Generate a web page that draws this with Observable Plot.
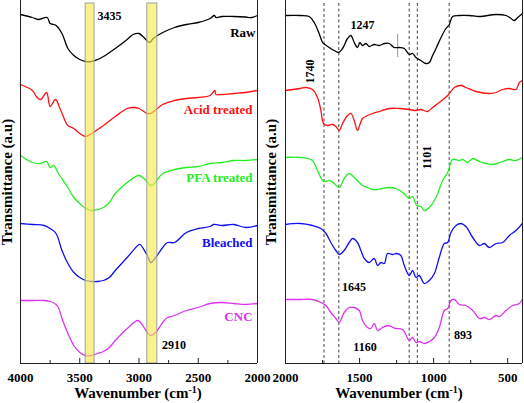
<!DOCTYPE html>
<html>
<head>
<meta charset="utf-8">
<script src="https://cdn.jsdelivr.net/npm/d3@7"></script>
<script src="https://cdn.jsdelivr.net/npm/@observablehq/plot@0.6"></script>
<style>
  body { margin: 0; background: #fff; }
  #chart { position: relative; width: 524px; height: 403px; font-family: "Liberation Serif", "Times New Roman", serif; font-weight: bold; }
  #chart svg { position: absolute; left: 0; top: 0; overflow: visible; }
  .xtitle { position: absolute; top: 386px; font-size: 15px; line-height: 14px; white-space: nowrap; transform: translateX(-50%); color: #000; }
  .xtitle sup { font-size: 10px; vertical-align: 5px; line-height: 0; }
</style>
</head>
<body>
<div id="chart"></div>
<script>
// ---------- data (wavenumber, transmittance a.u.) ----------
const seriesNames = ["Raw", "Acid treated", "PFA treated", "Bleached", "CNC"];
const seriesColors = ["#000000", "#ff1010", "#22ee22", "#1010ee", "#dd33ee"];

const rawLeft = [[4000,349],[3900,346],[3850,344],[3775,346],[3750,340],[3720,339],[3700,338],[3650,330],[3600,315],[3550,308],[3500,304],[3450,302],[3400,302],[3350,304],[3300,307],[3200,315],[3100,324],[3050,329],[3000,330],[2950,325],[2910,321],[2880,325],[2800,331],[2700,336],[2600,339],[2500,341],[2400,345],[2365,348],[2350,346],[2300,347],[2200,347],[2100,346.5],[2050,346],[2000,348]];
const acidLeft = [[4000,279],[3900,273],[3860,266],[3830,264],[3780,271],[3750,257],[3705,264],[3660,253],[3600,238],[3550,235],[3500,230],[3450,227],[3400,230],[3300,238],[3200,247],[3100,255],[3045,256],[3000,255],[2930,250],[2900,250],[2800,259],[2700,263],[2600,265],[2500,266],[2400,268],[2360,273],[2350,269],[2300,269],[2200,270],[2100,271],[2000,273]];
const pfaLeft = [[4000,208],[3900,201],[3830,200],[3780,202],[3750,196],[3720,198],[3680,190],[3600,176],[3550,166],[3500,160],[3450,155],[3400,153],[3300,156],[3250,161],[3200,170],[3100,181],[3000,188],[2950,184],[2900,178],[2870,180],[2800,190],[2700,194],[2600,196],[2500,197],[2400,200],[2300,201],[2200,203],[2100,203],[2000,204]];
const bleachedLeft = [[4000,140],[3900,139],[3800,138],[3750,135],[3700,130],[3650,113],[3600,100],[3550,91],[3500,86],[3450,83],[3400,82],[3350,82],[3300,83],[3250,86],[3200,93],[3100,106],[3000,119],[2990,119],[2930,108],[2900,101],[2860,106],[2800,116],[2760,121],[2700,121],[2600,131],[2500,135],[2400,137],[2370,139],[2300,138],[2200,139],[2100,136],[2000,138]];
const cncLeft = [[4000,63],[3900,63],[3800,63],[3750,62],[3700,59],[3680,56],[3650,45],[3600,30],[3550,18],[3500,11],[3450,8],[3400,8],[3350,10],[3300,12],[3250,16],[3200,23],[3100,35],[3010,43],[2980,40],[2930,31],[2900,28],[2860,31],[2800,41],[2760,46],[2700,48],[2600,53],[2500,56],[2400,60],[2300,61],[2200,60],[2100,59],[2000,60]];

const rawRight = [[2000,348],[1900,348],[1840,347],[1806,341],[1773,330],[1750,321],[1743,320],[1705,316],[1671,313],[1642,311],[1615,315],[1581,325],[1559,328],[1536,321],[1514,316],[1498,321],[1480,318],[1457,320],[1435,317],[1401,319],[1367,318],[1333,320],[1300,320],[1266,316],[1232,316],[1198,315],[1164,309],[1142,310],[1119,306],[1086,303],[1052,300],[1029,301],[1007,308],[984,315],[950,326],[917,335],[894,339],[872,347],[827,348],[759,348],[691,347],[579,349],[511,348],[477,345],[455,343],[432,346],[400,350]];
const acidRight = [[2000,273],[1901,275],[1863,276],[1818,274],[1784,266],[1761,253],[1743,240],[1716,238],[1682,239],[1660,237],[1637,233],[1615,240],[1581,248],[1559,250],[1536,243],[1514,233],[1495,240],[1480,245],[1446,248],[1412,250],[1367,252],[1300,255],[1232,255],[1164,254],[1119,253],[1086,254],[1041,252],[1007,256],[962,261],[905,268],[860,276],[815,278],[782,276],[714,272],[624,270],[579,271],[534,274],[489,275],[444,274],[421,281],[401,283]];
const pfaRight = [[2000,206],[1901,206],[1818,203],[1784,193],[1743,182],[1705,183],[1671,180],[1637,176],[1604,185],[1570,190],[1536,186],[1502,181],[1480,178],[1446,176],[1412,174],[1378,174],[1345,175],[1300,176],[1255,175],[1209,171],[1164,165],[1142,167],[1115,158],[1086,157],[1063,153],[1029,156],[984,166],[939,183],[905,191],[872,204],[827,203],[804,204],[770,201],[736,205],[691,202],[646,200],[601,199],[534,202],[489,204],[444,203],[401,206]];
const bleachedRight = [[2000,139],[1901,140],[1818,138],[1761,135],[1727,130],[1694,121],[1660,113],[1637,109],[1604,113],[1570,121],[1547,125],[1514,121],[1491,113],[1468,105],[1435,101],[1401,105],[1378,98],[1356,101],[1333,100],[1311,110],[1277,109],[1250,110],[1221,108],[1198,98],[1164,88],[1142,93],[1119,86],[1097,88],[1063,80],[1029,83],[995,90],[962,106],[928,120],[905,121],[883,131],[849,138],[815,140],[782,137],[736,126],[691,118],[658,120],[624,116],[579,120],[534,121],[489,128],[444,133],[401,140]];
const cncRight = [[2000,64],[1901,64],[1818,64],[1761,61],[1727,58],[1694,51],[1660,45],[1637,41],[1604,51],[1570,56],[1536,56],[1502,53],[1480,43],[1446,36],[1423,35],[1401,40],[1378,33],[1345,36],[1311,38],[1288,37],[1255,35],[1209,34],[1164,23],[1142,26],[1119,21],[1097,22],[1063,20],[1029,22],[995,26],[962,36],[928,53],[905,55],[883,63],[860,64],[827,59],[782,58],[736,53],[691,45],[658,46],[624,44],[579,48],[556,47],[511,53],[466,58],[421,60],[401,64]];

const leftTicksMajor = [4000, 3500, 3000, 2500, 2000];
const leftTicksMinor = [3750, 3250, 2750, 2250];
const rightTicksMajor = [2000, 1500, 1000, 500];
const rightTicksMinor = [1750, 1250, 750];

const highlightBands = [[3450, 3375], [2930, 2845]];
const dashedPeaks = [1740, 1640, 1165, 1110, 895];
const markerLine = [[1243, 306, 329]];

const leftNames = [[2017, 331, "Raw"], [2042, 254, "Acid treated"], [2042, 186, "PFA treated"], [2042, 121, "Bleached"], [2042, 47, "CNC"]];
const leftPeaks = [[3249, 347, "3435"], [2705, 18, "2910"]];
const rightPeaks = [[1480, 338, "1247"], [1537, 76, "1645"], [1463, 16, "1160"], [801, 28, "893"]];
const rightPeaksVertical = [[1831, 292, "1740"], [1047, 206, "1101"]];

const yTitle = "Transmittance (a.u)";

// ---------- build ----------
const W = 524, H = 403, MB = 40, MT = 0;
const innerH = H - MB - MT;
const leftData = [rawLeft, acidLeft, pfaLeft, bleachedLeft, cncLeft];
const rightData = [rawRight, acidRight, pfaRight, bleachedRight, cncRight];
const font = {fontFamily: "'Liberation Serif', 'Times New Roman', serif", fontWeight: "bold", overflow: "visible", background: "transparent"};

function lines(sets) {
  return sets.map((pts, i) => Plot.line(pts, {x: d => d[0], y: d => d[1], stroke: seriesColors[i], strokeWidth: 1.3, curve: "catmull-rom"}));
}

function frameMarks(domain, major, minor) {
  return [
    Plot.ruleX(domain, {stroke: "#222", strokeWidth: 1}),
    Plot.ruleY([0], {stroke: "#222", strokeWidth: 1.2}),
    Plot.ruleX(major, {stroke: "#222", insetTop: innerH - 5}),
    Plot.ruleX(minor, {stroke: "#222", insetTop: innerH - 3}),
    Plot.axisX(major, {tickSize: 0, tickPadding: 9, tickFormat: d => String(d), fontSize: 13, label: null})
  ];
}

const left = Plot.plot({
  width: W, height: H,
  marginLeft: 20, marginRight: W - 257, marginTop: MT, marginBottom: MB,
  x: {domain: [4000, 2000]},
  y: {domain: [0, innerH], axis: null},
  style: font,
  marks: [
    ...lines(leftData),
    Plot.rect(highlightBands, {x1: d => d[0], x2: d => d[1], fill: "#f5ea50", fillOpacity: 0.65, stroke: "#a0a0a0", strokeWidth: 1, insetTop: 3}),
    ...frameMarks([4000, 2000], leftTicksMajor, leftTicksMinor),
    Plot.text(leftNames, {x: d => d[0], y: d => d[1], text: d => d[2], fill: (d, i) => seriesColors[i], textAnchor: "end", fontSize: 13}),
    Plot.text(leftPeaks, {x: d => d[0], y: d => d[1], text: d => d[2], fill: "#000", fontSize: 12}),
    Plot.text([yTitle], {frameAnchor: "left", textAnchor: "middle", text: d => d, rotate: -90, dx: -13, fontSize: 15, fill: "#000"})
  ]
});

const right = Plot.plot({
  width: W, height: H,
  marginLeft: 285, marginRight: 2, marginTop: MT, marginBottom: MB,
  x: {domain: [2000, 400]},
  y: {domain: [0, innerH], axis: null},
  style: font,
  marks: [
    Plot.ruleX(dashedPeaks, {stroke: "#444", strokeDasharray: "3,2.5", strokeWidth: 1, insetTop: 3}),
    Plot.ruleX(markerLine, {x: d => d[0], y1: d => d[1], y2: d => d[2], stroke: "#999", strokeWidth: 1}),
    ...lines(rightData),
    ...frameMarks([2000, 400], rightTicksMajor, rightTicksMinor),
    Plot.text(rightPeaks, {x: d => d[0], y: d => d[1], text: d => d[2], fill: "#000", fontSize: 12}),
    Plot.text(rightPeaksVertical, {x: d => d[0], y: d => d[1], text: d => d[2], fill: "#000", fontSize: 12, rotate: -90}),
    Plot.text([yTitle], {frameAnchor: "left", textAnchor: "middle", text: d => d, rotate: -90, dx: -14, fontSize: 15, fill: "#000"})
  ]
});

const chart = document.getElementById("chart");
chart.appendChild(left);
chart.appendChild(right);
const t1 = document.createElement("div");
t1.className = "xtitle"; t1.style.left = "138px";
t1.innerHTML = "Wavenumber (cm<sup>-1</sup>)";
const t2 = document.createElement("div");
t2.className = "xtitle"; t2.style.left = "399px";
t2.innerHTML = "Wavenumber (cm<sup>-1</sup>)";
chart.appendChild(t1);
chart.appendChild(t2);
</script>
</body>
</html>
